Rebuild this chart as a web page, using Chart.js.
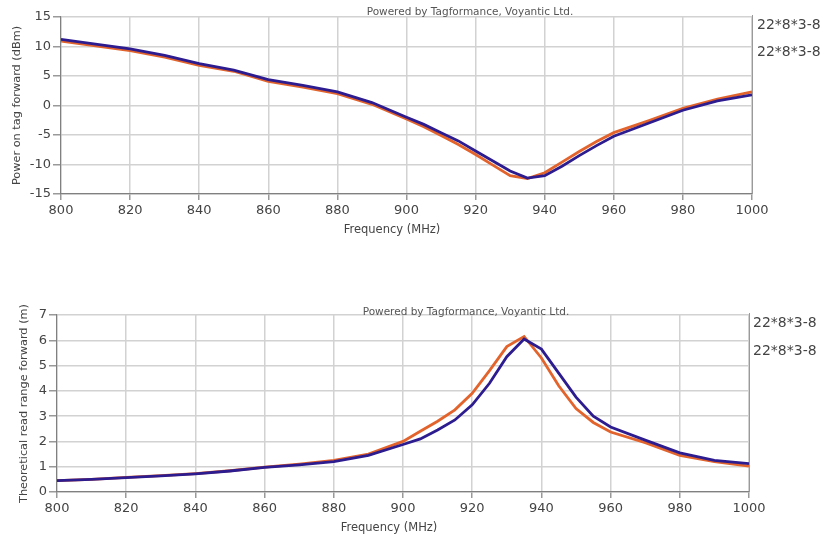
<!DOCTYPE html>
<html><head><meta charset="utf-8">
<script src="https://cdn.jsdelivr.net/npm/chart.js@4.4.1/dist/chart.umd.min.js"></script>
<style>
html,body{margin:0;padding:0;background:#fff;width:825px;height:543px;overflow:hidden}
.box{position:absolute;left:0;width:825px}
#b1{top:0;height:250px}
#b2{top:290px;height:253px}
</style></head><body>
<div class="box" id="b1"><canvas id="c1"></canvas></div>
<div class="box" id="b2"><canvas id="c2"></canvas></div>
<script>
// ---- data ----
const frequencies = [800,810,820,830,840,850,860,870,880,890,900,905,910,915,920,925,930,935,940,945,950,955,960,970,980,990,1000];
const seriesNames = ["22*8*3-8", "22*8*3-8"];
const powerBlue   = [11.2,10.4,9.6,8.5,7.1,6.0,4.4,3.4,2.3,0.5,-2.0,-3.2,-4.6,-6.0,-7.7,-9.4,-11.1,-12.3,-11.9,-10.3,-8.5,-6.8,-5.2,-3.0,-0.8,0.8,1.8];
const powerOrange = [10.9,10.1,9.3,8.2,6.8,5.8,4.1,3.1,2.0,0.2,-2.3,-3.6,-5.1,-6.6,-8.3,-10.1,-11.9,-12.4,-11.4,-9.6,-7.8,-6.1,-4.6,-2.6,-0.5,1.1,2.3];
const rangeBlue   = [0.45,0.50,0.57,0.64,0.72,0.83,0.97,1.07,1.20,1.45,1.88,2.10,2.45,2.85,3.45,4.30,5.35,6.05,5.65,4.70,3.75,3.00,2.57,2.05,1.55,1.25,1.12];
const rangeOrange = [0.45,0.50,0.58,0.65,0.73,0.84,0.98,1.10,1.25,1.50,2.00,2.40,2.80,3.25,3.90,4.80,5.75,6.15,5.30,4.20,3.30,2.75,2.37,1.95,1.45,1.20,1.02];
const freqTicks = [800,820,840,860,880,900,920,940,960,980,1000];
const creditText = "Powered by Tagformance, Voyantic Ltd.";
const xTitle = "Frequency (MHz)";
const yTitlePower = "Power on tag forward (dBm)";
const yTitleRange = "Theoretical read range forward (m)";

const FONT = "'DejaVu Sans', Verdana, sans-serif";
const BLUE = '#2c1c8f';
const ORANGE = '#e2642c';

function pts(vals){ return frequencies.map((f,i)=>({x:f,y:vals[i]})); }

function build(canvasId, o){
  const overlay = {
    id:'overlay',
    beforeDatasetsDraw(chart){
      const {ctx, chartArea:a} = chart;
      ctx.save();
      ctx.strokeStyle = '#9a9a9a'; ctx.lineWidth = 1;
      ctx.beginPath(); ctx.moveTo(a.right+0.5, a.top-2); ctx.lineTo(a.right+0.5, a.bottom); ctx.stroke();
      ctx.restore();
    },
    afterDraw(chart){
      const {ctx} = chart;
      ctx.save();
      ctx.fillStyle = '#555';
      ctx.font = '10.5px ' + FONT;
      ctx.textAlign = 'center'; ctx.textBaseline = 'middle';
      ctx.fillText(creditText, o.creditX, o.creditY);
      ctx.fillStyle = '#444';
      ctx.font = '11.5px ' + FONT;
      ctx.fillText(xTitle, o.xtX, o.xtY);
      ctx.font = '14px ' + FONT;
      ctx.textAlign = 'left';
      seriesNames.forEach((n,i)=> ctx.fillText(n, o.legX, o.legY[i]));
      ctx.restore();
    }
  };
  return new Chart(document.getElementById(canvasId), {
    type:'line',
    data:{ datasets:[
      {label:seriesNames[0], data:pts(o.blue), borderColor:BLUE, borderWidth:2.8, pointRadius:0, tension:0, fill:false},
      {label:seriesNames[1], data:pts(o.orange), borderColor:ORANGE, borderWidth:2.8, pointRadius:0, tension:0, fill:false}
    ]},
    options:{
      responsive:true, maintainAspectRatio:false, animation:false,
      layout:{padding:{top:o.top, right:o.right, left:0, bottom:0}},
      plugins:{legend:{display:false}, title:{display:false}, tooltip:{enabled:false}},
      scales:{
        x:{type:'linear', min:800, max:1000,
          afterBuildTicks(s){ s.ticks = freqTicks.map(v=>({value:v})); },
          afterFit(s){ s.height = o.xh; },
          grid:{color:'#d2d2d2', lineWidth:1.5, tickLength:6, tickColor:'#999'},
          border:{color:'#808080', width:1.2},
          ticks:{color:'#444', font:{family:FONT, size:13}, padding:o.xpad, maxRotation:0, callback:v=>String(v)},
          title:{display:false}
        },
        y:{min:o.ymin, max:o.ymax,
          afterFit(s){ s.width = o.yw; },
          grid:{color:'#d2d2d2', lineWidth:1.5, tickLength:8, tickColor:'#999'},
          border:{color:'#808080', width:1.2},
          ticks:{stepSize:o.ystep, color:'#444', font:{family:FONT, size:13}, padding:2, callback:v=>String(v)},
          title:{display:true, text:o.ytitle, color:'#444', font:{family:FONT, size:11.3}, padding:{top:o.ytp,bottom:0}}
        }
      }
    },
    plugins:[overlay]
  });
}

build('c1', {blue:powerBlue, orange:powerOrange, ymin:-15, ymax:15, ystep:5, ytitle:yTitlePower,
  top:17, right:73, xh:56, yw:61, xpad:3, ytp:10, creditX:470, creditY:12, legX:757, legY:[25,52],
  xtX:392, xtY:230});
build('c2', {blue:rangeBlue, orange:rangeOrange, ymin:0, ymax:7, ystep:1, ytitle:yTitleRange,
  top:25, right:76, xh:51, yw:57, xpad:3, ytp:17, creditX:466, creditY:22, legX:753, legY:[33,61],
  xtX:389, xtY:238});
</script>
</body></html>
